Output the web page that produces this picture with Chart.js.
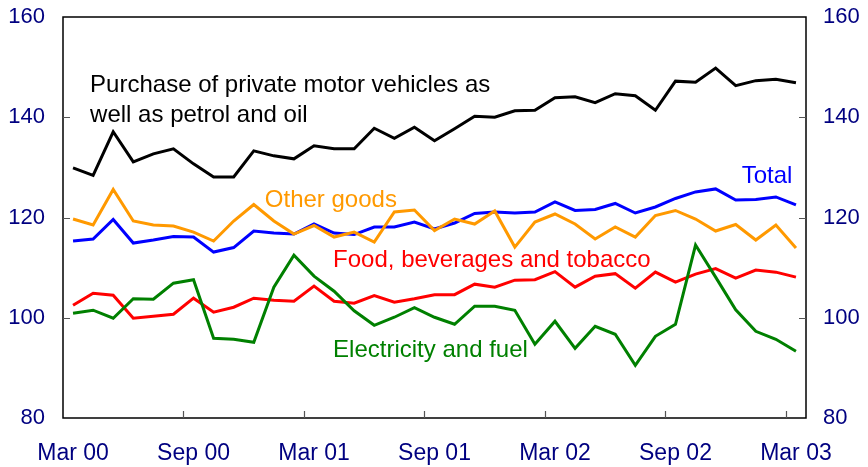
<!DOCTYPE html>
<html>
<head>
<meta charset="utf-8">
<script src="https://cdn.jsdelivr.net/npm/chart.js@4/dist/chart.umd.min.js"></script>
<style>
    html, body { margin: 0; padding: 0; background: #fff; }
    #wrap { width: 868px; height: 467px; }
</style>
</head>
<body>
<div id="wrap"><canvas id="chart"></canvas></div>
<script>
// Meses (Mar 00 .. Mar 03)
const months = [
    'Mar 00', 'Apr 00', 'May 00', 'Jun 00', 'Jul 00', 'Aug 00', 'Sep 00', 'Oct 00', 'Nov 00', 'Dec 00', 'Jan 01', 'Feb 01',
    'Mar 01', 'Apr 01', 'May 01', 'Jun 01', 'Jul 01', 'Aug 01', 'Sep 01', 'Oct 01', 'Nov 01', 'Dec 01', 'Jan 02', 'Feb 02',
    'Mar 02', 'Apr 02', 'May 02', 'Jun 02', 'Jul 02', 'Aug 02', 'Sep 02', 'Oct 02', 'Nov 02', 'Dec 02', 'Jan 03', 'Feb 03',
    'Mar 03'
];

// Séries
const motorVehicles = [129.9, 128.4, 137.1, 131.1, 132.7, 133.7, 130.7, 128.1, 128.1, 133.3, 132.3, 131.7,
    134.3, 133.7, 133.7, 137.8, 135.8, 138.0, 135.3, 137.7, 140.2, 140.0, 141.3, 141.4,
    143.9, 144.1, 142.9, 144.7, 144.3, 141.4, 147.2, 147.0, 149.8, 146.3, 147.3, 147.6, 146.9];
const total = [115.3, 115.7, 119.6, 114.9, 115.5, 116.2, 116.1, 113.1, 114.0, 117.3, 116.9, 116.7,
    118.7, 116.9, 116.6, 118.1, 118.1, 119.1, 117.7, 118.9, 120.8, 121.1, 120.9, 121.1,
    123.1, 121.4, 121.6, 122.8, 120.9, 122.1, 123.8, 125.1, 125.7, 123.5, 123.6, 124.1, 122.5];
const otherGoods = [119.7, 118.5, 125.6, 119.3, 118.5, 118.3, 117.1, 115.3, 119.3, 122.6, 119.3, 116.7,
    118.4, 116.1, 117.1, 115.1, 121.1, 121.5, 117.4, 119.7, 118.7, 121.3, 114.1, 119.1,
    120.7, 118.7, 115.7, 118.1, 116.1, 120.4, 121.4, 119.7, 117.3, 118.6, 115.5, 118.5, 113.9];
const food = [102.5, 104.9, 104.5, 99.9, 100.3, 100.7, 103.9, 101.1, 102.1, 103.9, 103.5, 103.3,
    106.3, 103.3, 102.9, 104.4, 103.1, 103.8, 104.6, 104.6, 106.7, 106.1, 107.5, 107.6,
    109.2, 106.1, 108.3, 108.8, 105.9, 109.1, 107.1, 108.7, 109.8, 107.9, 109.5, 109.1, 108.1];
const electricity = [100.9, 101.5, 99.9, 103.8, 103.7, 106.9, 107.6, 95.9, 95.7, 95.1, 106.1, 112.5,
    108.3, 105.3, 101.4, 98.5, 100.1, 102.0, 100.1, 98.7, 102.3, 102.3, 101.5, 94.7,
    99.3, 93.9, 98.3, 96.7, 90.5, 96.3, 98.7, 114.5, 108.1, 101.6, 97.3, 95.7, 93.3];

// Eixo Y
const yMin = 80;
const yMax = 160;
const yStep = 20;
const labelEvery = 6;

// Rótulos dentro do gráfico: [texto, índice x, valor y, cor]
const seriesLabels = [
    ['Purchase of private motor vehicles as', 0.85, 145.0, '#000000'],
    ['well as petrol and oil', 0.85, 139.1, '#000000'],
    ['Other goods', 9.55, 122.15, '#FF9900'],
    ['Total', 33.3, 126.8, '#0000FF'],
    ['Food, beverages and tobacco', 12.95, 110.06, '#FF0000'],
    ['Electricity and fuel', 12.95, 92.1, '#008000']
];

const FONT = '"Liberation Sans", Arial, sans-serif';
const NAVY = '#000080';

// Moldura, marcas internas e rótulos
const framePlugin = {
    id: 'frame',
    afterDraw(chart) {
        const ctx = chart.ctx;
        const area = chart.chartArea;
        const x = chart.scales.x;
        const y = chart.scales.y;
        ctx.save();
        ctx.strokeStyle = '#000';
        ctx.lineWidth = 1.5;
        ctx.strokeRect(area.left, area.top, area.right - area.left, area.bottom - area.top);

        // marcas no eixo x (entre meses)
        ctx.strokeStyle = '#555';
        ctx.lineWidth = 1.2;
        ctx.beginPath();
        for (let i = labelEvery; i < months.length; i += labelEvery) {
            const px = Math.round((x.getPixelForValue(i - 1) + x.getPixelForValue(i)) / 2) + 0.5;
            ctx.moveTo(px, area.bottom);
            ctx.lineTo(px, area.bottom - 7);
        }
        // marcas no eixo y
        for (let v = yMin + yStep; v < yMax; v += yStep) {
            const py = Math.round(y.getPixelForValue(v)) + 0.5;
            ctx.moveTo(area.left, py);
            ctx.lineTo(area.left + 7, py);
            ctx.moveTo(area.right, py);
            ctx.lineTo(area.right - 7, py);
        }
        ctx.stroke();

        // rótulos das séries
        ctx.font = '24px ' + FONT;
        ctx.textAlign = 'left';
        ctx.textBaseline = 'alphabetic';
        seriesLabels.forEach(([text, xi, yv, color]) => {
            ctx.fillStyle = color;
            ctx.fillText(text, x.getPixelForValue(xi), y.getPixelForValue(yv));
        });
        ctx.restore();
    }
};

function makeSet(data, color) {
    return {
        data: data,
        borderColor: color,
        backgroundColor: color,
        borderWidth: 3,
        pointRadius: 0,
        tension: 0,
        fill: false,
        yAxisID: 'y'
    };
}

const yTicks = {
    stepSize: yStep,
    color: NAVY,
    font: { family: FONT, size: 22 }
};

// Largura fixa dos eixos verticais, sem margem extra em cima/embaixo
function fixWidth(w) {
    return function(scale) {
        scale.width = w;
        scale.paddingTop = 0;
        scale.paddingBottom = 0;
    };
}

new Chart(document.getElementById('chart'), {
    type: 'line',
    data: {
        labels: months,
        datasets: [
            makeSet(electricity, '#008000'),
            makeSet(food, '#FF0000'),
            makeSet(otherGoods, '#FF9900'),
            makeSet(total, '#0000FF'),
            makeSet(motorVehicles, '#000000')
        ]
    },
    options: {
        responsive: true,
        maintainAspectRatio: false,
        animation: false,
        layout: { padding: { left: 8, right: 8, top: 17, bottom: 0 } },
        plugins: {
            legend: { display: false },
            tooltip: { enabled: false }
        },
        scales: {
            x: {
                offset: true,
                grid: { display: false, drawTicks: false },
                border: { display: false },
                afterFit: function(scale) {
                    scale.height = 49;
                    scale.paddingLeft = 0;
                    scale.paddingRight = 0;
                },
                ticks: {
                    autoSkip: false,
                    maxRotation: 0,
                    padding: 22,
                    color: NAVY,
                    font: { family: FONT, size: 23 },
                    callback: function(value, index) {
                        return index % labelEvery === 0 ? months[index] : '';
                    }
                }
            },
            y: {
                position: 'left',
                min: yMin,
                max: yMax,
                grid: { display: false, drawTicks: false },
                border: { display: false },
                afterFit: fixWidth(55),
                ticks: Object.assign({ padding: 18 }, yTicks)
            },
            y1: {
                position: 'right',
                min: yMin,
                max: yMax,
                grid: { display: false, drawTicks: false },
                border: { display: false },
                afterFit: fixWidth(54),
                ticks: Object.assign({ padding: 17 }, yTicks)
            }
        }
    },
    plugins: [framePlugin]
});
</script>
</body>
</html>
